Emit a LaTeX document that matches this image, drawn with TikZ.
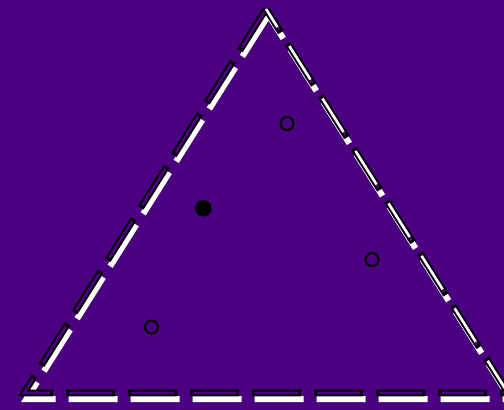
\documentclass[tikz,border=0pt]{standalone}
\usepackage{tikz}
\usetikzlibrary{calc}
\definecolor{indigo}{RGB}{75,0,130}

\begin{document}
\begin{tikzpicture}[
    x=1pt, y=-1pt,
    edge/.style={line width=6.6pt, black, dash pattern=on 49pt off 13pt},
    edgeinner/.style={line width=2.6pt, indigo, dash pattern=on 43pt off 19pt, dash phase=59pt},
    edgelit/.style={line width=2.6pt, white, dash pattern=on 39.6pt off 22.4pt, dash phase=1.5pt},
    shadow/.style={line width=6pt, white, dash pattern=on 49pt off 13pt},
    dot/.style={circle, fill=black, inner sep=0pt, minimum size=16.6pt},
    ring/.style={circle, draw=black, line width=2pt, inner sep=0pt, minimum size=13pt}
]

% ============ BACKGROUND ============
\fill[indigo] (0,0) rectangle (504,410);
\useasboundingbox (0,0) rectangle (504,410);

% ============ TRIANGLE ============
\coordinate (apex) at (266,9);
\coordinate (bl) at (24,393);
\coordinate (br) at (508,393);

% white shadow of the dashes
\draw[shadow, transform canvas={shift={(2.5,6)}}] (apex) -- (bl) -- (br) -- cycle;

% outlined dashes
\draw[edge] (apex) -- (bl) -- (br) -- cycle;
\draw[edgeinner] (apex) -- (bl) -- (br) -- cycle;
\draw[edgelit] (br) -- (apex);

% ============ POINTS ============
\node[dot] (solid) at (203.3,208.3) {};
\node[ring] (ringtop) at (287,123.5) {};
\node[ring] (ringright) at (372,259.5) {};
\node[ring] (ringleft) at (151.5,327) {};

\end{tikzpicture}
\end{document}
